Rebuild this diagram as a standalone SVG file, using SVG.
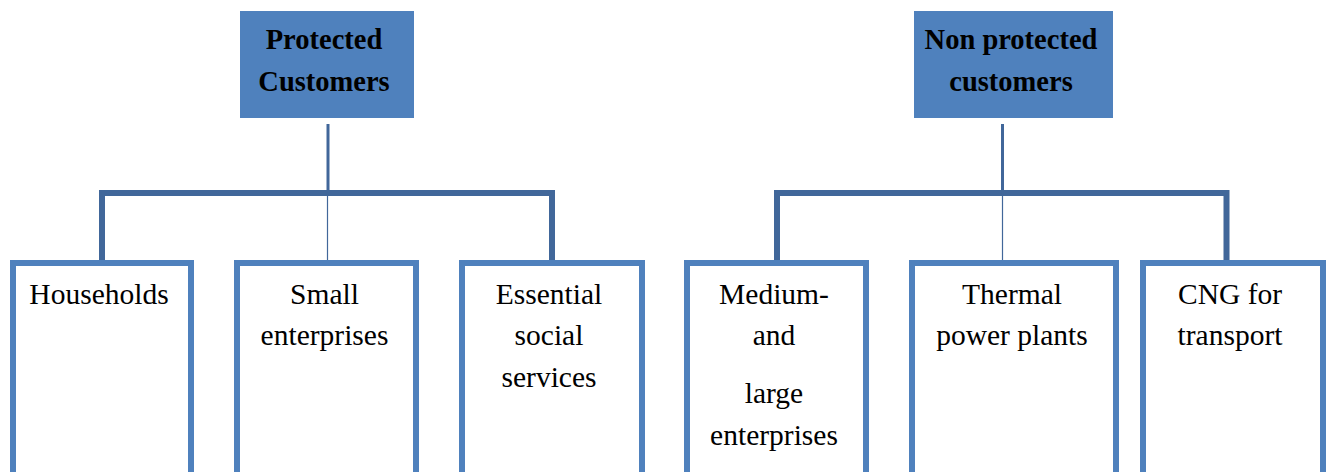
<svg xmlns="http://www.w3.org/2000/svg" width="1326" height="472" viewBox="0 0 1326 472">
<style>
.top{fill:#4F81BD;}
.box{fill:#FFFFFF;stroke:#4F81BD;stroke-width:6;}
.c{fill:none;stroke:#41679A;stroke-width:6;}
.c3{fill:none;stroke:#41679A;stroke-width:3;}
.c1{fill:none;stroke:#41679A;stroke-width:1.2;}
.h{font-family:"Liberation Serif","Times New Roman",serif;font-size:28.5px;font-weight:bold;fill:#000;text-anchor:middle;}
.t{font-family:"Liberation Serif","Times New Roman",serif;font-size:29.5px;fill:#000;text-anchor:middle;}
</style>
<rect width="1326" height="472" fill="#FFFFFF"/>
<g id="connectors">
<path class="c3" d="M328,124 V193"/>
<path class="c" d="M102,260 V193 H552 V260"/>
<path class="c1" d="M327.5,193 V260"/>
<path class="c3" d="M1002.5,124 V193"/>
<path class="c" d="M777,260 V193 H1226.5 V260"/>
<path class="c1" d="M1002.5,193 V260"/>
</g>
<g id="protected">
<rect class="top" x="240" y="11" width="174" height="107"/>
<text class="h" x="324" y="49">Protected</text>
<text class="h" x="324" y="90.5">Customers</text>
</g>
<g id="nonprotected">
<rect class="top" x="914" y="11" width="199" height="107"/>
<text class="h" x="1011" y="49">Non protected</text>
<text class="h" x="1011" y="90.5">customers</text>
</g>
<g id="households">
<rect class="box" x="13" y="263" width="178" height="240"/>
<text class="t" x="99" y="304">Households</text>
</g>
<g id="small">
<rect class="box" x="237" y="263" width="179" height="240"/>
<text class="t" x="324.5" y="304">Small</text>
<text class="t" x="324.5" y="345">enterprises</text>
</g>
<g id="essential">
<rect class="box" x="462" y="263" width="180" height="240"/>
<text class="t" x="549" y="304">Essential</text>
<text class="t" x="549" y="345">social</text>
<text class="t" x="549" y="387">services</text>
</g>
<g id="medium">
<rect class="box" x="687" y="263" width="179" height="240"/>
<text class="t" x="774" y="304">Medium-</text>
<text class="t" x="774" y="345">and</text>
<text class="t" x="774" y="403">large</text>
<text class="t" x="774" y="445">enterprises</text>
</g>
<g id="thermal">
<rect class="box" x="912" y="263" width="204" height="240"/>
<text class="t" x="1012" y="304">Thermal</text>
<text class="t" x="1012" y="345">power plants</text>
</g>
<g id="cng">
<rect class="box" x="1143" y="263" width="180" height="240"/>
<text class="t" x="1230" y="304">CNG for</text>
<text class="t" x="1230" y="345">transport</text>
</g>
</svg>
